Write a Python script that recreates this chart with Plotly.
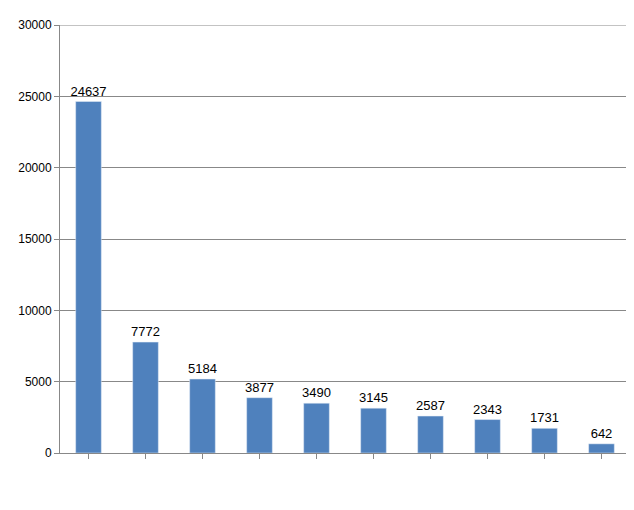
import plotly.graph_objects as go

teams = ["T1", "T2", "T3", "T4", "T5", "T6", "T7", "T8", "T9", "T10"]
values = [24637, 7772, 5184, 3877, 3490, 3145, 2587, 2343, 1731, 642]
yticks = [0, 5000, 10000, 15000, 20000, 25000, 30000]

fig = go.Figure(go.Bar(
    x=teams, y=values, marker_color="#4F81BD",
    text=[str(v) for v in values], textposition="outside", textangle=0,
    textfont=dict(size=13, color="black"), cliponaxis=False,
))
fig.update_layout(
    width=634, height=510, plot_bgcolor="white", paper_bgcolor="white",
    margin=dict(l=47, r=12, t=10, b=65), bargap=0.55,
    uniformtext=dict(minsize=13, mode="show"),
    font=dict(family="Liberation Sans", size=12, color="black"), showlegend=False,
)
fig.update_yaxes(range=[0, 30000], tickvals=yticks, ticktext=[str(t) for t in yticks],
                 showgrid=True, gridcolor="#888888",
                 showline=True, linecolor="#888888", ticks="outside", tickcolor="#888888",
                 ticklen=5, zeroline=False, mirror=False)
fig.add_hline(y=30000, line_color="#888888", line_width=1)
fig.update_xaxes(showticklabels=False, showline=True, linecolor="#888888", ticks="outside",
                 tickcolor="#888888", ticklen=5)
fig.write_html("out.html")
